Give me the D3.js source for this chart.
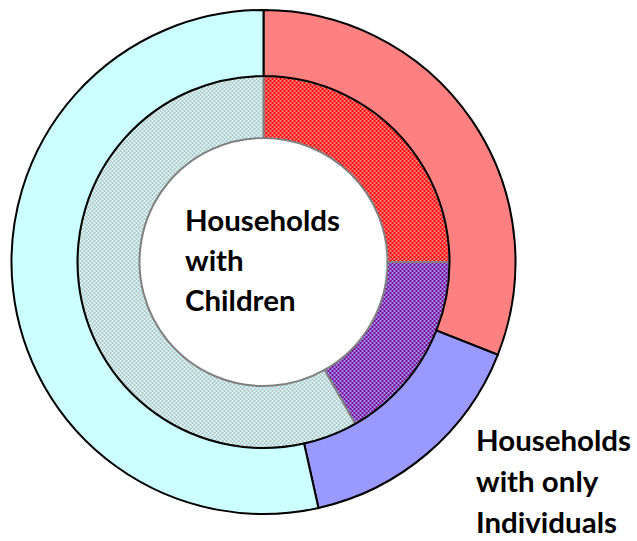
<!DOCTYPE html>
<html>
<head>
<meta charset="utf-8">
<script src="https://cdn.jsdelivr.net/npm/d3@7"></script>
<style>
  html, body { margin: 0; padding: 0; background: #ffffff; }
  svg { display: block; }
</style>
</head>
<body>
<svg id="chart" width="637" height="541"></svg>
<script>
// Data (percent shares)
const categories = ["Households with Children", "Households with only Individuals", "Other Households"];
const outerValues = [31, 15.5, 53.5];
const innerValues = [25, 16.8, 58.2];
const centerLabel = ["Households", "with", "Children"];
const sideLabel = ["Households", "with only", "Individuals"];

const outerColors = ["#FF8080", "#9999FF", "#CCFFFF"];
const innerFg = ["#FF0000", "#800080", "#C0C0C0"];
const innerBg = ["#FF8080", "#9999FF", "#CCFFFF"];

const svg = d3.select("#chart");
const cx = 263.5, cy = 262;
const rOuter = 252, rMid = 186, rInner = 124;

const defs = svg.append("defs");
innerFg.forEach((fg, i) => {
  const p = defs.append("pattern")
    .attr("id", "pat" + i)
    .attr("patternUnits", "userSpaceOnUse")
    .attr("width", 4).attr("height", 4);
  p.append("rect").attr("width", 4).attr("height", 4).attr("fill", innerBg[i]);
  p.append("rect").attr("x", 0).attr("y", 0).attr("width", 2).attr("height", 2).attr("fill", fg);
  p.append("rect").attr("x", 2).attr("y", 2).attr("width", 2).attr("height", 2).attr("fill", fg);
});

const pie = d3.pie().sort(null).value(d => d);
const g = svg.append("g").attr("transform", `translate(${cx},${cy})`);

const innerArc = d3.arc().innerRadius(rInner).outerRadius(rMid);
const outerArc = d3.arc().innerRadius(rMid).outerRadius(rOuter);

g.selectAll("path.inner")
  .data(pie(innerValues))
  .join("path")
  .attr("class", "inner")
  .attr("d", innerArc)
  .attr("fill", (d, i) => `url(#pat${i})`)
  .attr("stroke", "#808080")
  .attr("stroke-width", 2);

g.selectAll("path.outer")
  .data(pie(outerValues))
  .join("path")
  .attr("class", "outer")
  .attr("d", outerArc)
  .attr("fill", (d, i) => outerColors[i])
  .attr("stroke", "#000000")
  .attr("stroke-width", 2);

function addLabel(lines, x, y0, dy) {
  const t = svg.append("text")
    .attr("font-family", "Lato, 'Open Sans', sans-serif")
    .attr("font-weight", "bold")
    .attr("font-size", 32)
    .attr("fill", "#000");
  lines.forEach((s, i) => {
    t.append("tspan").attr("x", x).attr("y", y0 + i * dy).text(s);
  });
  return t;
}

const t1 = addLabel(centerLabel, 185, 231, 40);
const t2 = addLabel(sideLabel, 476, 451, 41);

// fit width of "Households" to ~155px as in the reference
[t1, t2].forEach(t => {
  const first = t.select("tspan").node();
  const w = first.getComputedTextLength();
  if (w > 0) t.attr("font-size", 32 * 155 / w);
});
</script>
</body>
</html>
